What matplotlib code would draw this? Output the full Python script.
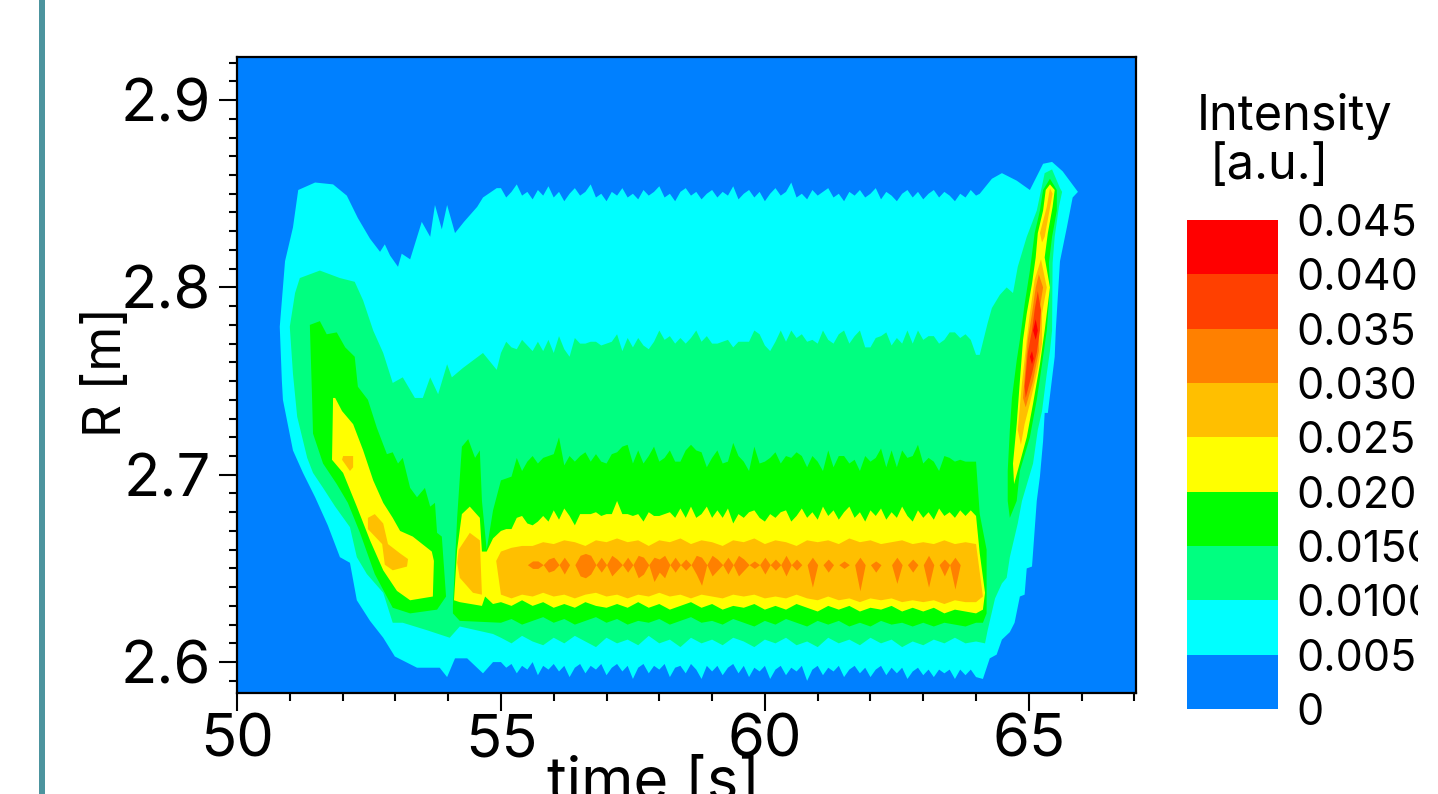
import matplotlib
matplotlib.use("Agg")
import matplotlib.pyplot as plt
from matplotlib.colors import ListedColormap, BoundaryNorm
from matplotlib.patches import Rectangle
from matplotlib.ticker import MultipleLocator
from matplotlib.transforms import Bbox
import numpy as np

plt.rcParams['font.family'] = ['Inter', 'Liberation Sans', 'DejaVu Sans']

levels = [0, 0.005, 0.01, 0.015, 0.02, 0.025, 0.03, 0.035, 0.04, 0.045]
level_labels = ["0", "0.0050", "0.0100", "0.0150", "0.0200", "0.0250", "0.0300", "0.0350", "0.0400", "0.0450"]
level_colors = ["#0080FF", "#00FFFF", "#00FF80", "#00FF00", "#FFFF00", "#FFBF00", "#FF8000", "#FF4000", "#FF0000"]

# 0.005 contour
c005_top = [2.853, 2.848, 2.851, 2.855, 2.849, 2.851, 2.847, 2.852, 2.849, 2.854,
            2.848, 2.851, 2.846, 2.850, 2.853, 2.849, 2.851, 2.855, 2.848, 2.850,
            2.846, 2.851, 2.849, 2.853, 2.848, 2.850, 2.847, 2.852, 2.849, 2.851,
            2.854, 2.848, 2.850, 2.846, 2.851, 2.853, 2.849, 2.851, 2.847, 2.850,
            2.852, 2.848, 2.851, 2.849, 2.854, 2.847, 2.850, 2.852, 2.848, 2.851,
            2.846, 2.850, 2.853, 2.849, 2.851, 2.856, 2.848, 2.850, 2.847, 2.852,
            2.849, 2.851, 2.853, 2.848, 2.850, 2.846, 2.851, 2.849, 2.852, 2.848,
            2.850, 2.853, 2.847, 2.851, 2.849, 2.846, 2.850, 2.852, 2.848, 2.851,
            2.847, 2.850, 2.852, 2.848, 2.851, 2.849, 2.846, 2.850, 2.848, 2.852,
            2.849]
c005_bot = [2.600, 2.597, 2.599, 2.594, 2.598, 2.596, 2.600, 2.593, 2.598, 2.596,
            2.599, 2.595, 2.598, 2.592, 2.597, 2.599, 2.594, 2.598, 2.596, 2.599,
            2.593, 2.597, 2.599, 2.595, 2.598, 2.591, 2.597, 2.599, 2.594, 2.598,
            2.596, 2.599, 2.592, 2.597, 2.598, 2.594, 2.599, 2.596, 2.591, 2.598,
            2.595, 2.598, 2.593, 2.597, 2.599, 2.594, 2.598, 2.592, 2.597, 2.595,
            2.598, 2.591, 2.596, 2.598, 2.593, 2.597, 2.595, 2.598, 2.590, 2.596,
            2.598, 2.593, 2.597, 2.595, 2.598, 2.592, 2.596, 2.598, 2.594, 2.597,
            2.592, 2.596, 2.598, 2.593, 2.597, 2.594, 2.597, 2.591, 2.595, 2.597,
            2.593, 2.596, 2.592, 2.596, 2.594, 2.596, 2.591, 2.596, 2.593, 2.596,
            2.592]
c005_left_t = [50.81, 50.91, 51.06, 51.16, 51.48, 51.82, 52.08, 52.29, 52.52, 52.71, 52.80, 52.90, 53.05, 53.12,
               53.28, 53.50, 53.66, 53.75, 53.88, 53.98, 54.13, 54.30, 54.55, 54.66, 54.92]
c005_left_R = [2.779, 2.814, 2.832, 2.852, 2.856, 2.855, 2.849, 2.837, 2.826, 2.819, 2.823, 2.817, 2.811, 2.818,
               2.815, 2.835, 2.827, 2.844, 2.831, 2.844, 2.829, 2.835, 2.843, 2.848, 2.853]
c005_right_t = [64.07, 64.30, 64.49, 64.77, 65.02, 65.27, 65.44, 65.64, 65.93, 65.83, 65.72, 65.59, 65.51, 65.49,
                65.36, 65.30, 65.27, 65.21, 65.15, 65.06, 64.96, 64.92, 64.83, 64.73, 64.64, 64.49, 64.39, 64.26, 64.13]
c005_right_R = [2.850, 2.858, 2.861, 2.857, 2.852, 2.866, 2.867, 2.862, 2.851, 2.848, 2.832, 2.814, 2.777, 2.763,
                2.733, 2.733, 2.718, 2.699, 2.686, 2.651, 2.650, 2.636, 2.635, 2.621, 2.616, 2.612, 2.604, 2.602, 2.591]
c005_low_t = [54.85, 54.66, 54.36, 54.13, 53.98, 53.84, 53.60, 53.41, 52.99, 52.77, 52.52, 52.27, 52.14, 51.95,
              51.72, 51.48, 51.25, 51.06, 50.87, 50.85]
c005_low_R = [2.600, 2.594, 2.602, 2.602, 2.592, 2.597, 2.597, 2.597, 2.603, 2.613, 2.622, 2.633, 2.653, 2.656,
              2.673, 2.688, 2.701, 2.713, 2.740, 2.750]

# 0.010 contour
c010_top = [2.765, 2.771, 2.768, 2.767, 2.772, 2.769, 2.766, 2.771, 2.766, 2.772,
            2.765, 2.774, 2.767, 2.763, 2.773, 2.770, 2.770, 2.771, 2.771, 2.769,
            2.770, 2.771, 2.775, 2.766, 2.773, 2.768, 2.773, 2.769, 2.767, 2.771,
            2.777, 2.772, 2.774, 2.770, 2.773, 2.770, 2.773, 2.777, 2.771, 2.774,
            2.770, 2.770, 2.771, 2.772, 2.768, 2.771,
            2.771, 2.771, 2.777, 2.775, 2.769, 2.766, 2.771, 2.777, 2.771, 2.777,
            2.773, 2.775, 2.771, 2.772, 2.770, 2.777, 2.772, 2.770, 2.775, 2.777,
            2.770, 2.774, 2.777, 2.768, 2.768, 2.773, 2.774, 2.776, 2.769, 2.773,
            2.770, 2.777, 2.770, 2.777, 2.772, 2.774, 2.774, 2.770, 2.772, 2.776,
            2.776, 2.773, 2.775, 2.772, 2.764]
c010_bot = [2.613, 2.610, 2.614, 2.611, 2.609, 2.613, 2.610, 2.614, 2.611, 2.608,
            2.613, 2.610, 2.612, 2.609, 2.614, 2.610, 2.612, 2.608, 2.613, 2.610,
            2.612, 2.609, 2.613, 2.611, 2.608, 2.612, 2.610, 2.613, 2.609, 2.611,
            2.608, 2.613, 2.610, 2.612, 2.609, 2.613, 2.610, 2.612, 2.608, 2.611,
            2.609, 2.612, 2.610, 2.613, 2.610, 2.611]
c010_left_t = [51.00, 51.10, 51.19, 51.57, 51.95, 52.23, 52.39, 52.58, 52.77, 52.95, 53.14, 53.37, 53.52, 53.66,
               53.81, 53.98, 54.07, 54.28, 54.66, 54.92]
c010_left_R = [2.779, 2.797, 2.805, 2.809, 2.805, 2.803, 2.793, 2.777, 2.765, 2.749, 2.752, 2.741, 2.741, 2.752,
               2.743, 2.759, 2.752, 2.757, 2.765, 2.756]
c010_right_t = [64.07, 64.22, 64.30, 64.45, 64.58, 64.70, 64.79, 64.96, 65.15, 65.30, 65.44, 65.59, 65.63, 65.57,
                65.49, 65.45, 65.44, 65.40, 65.34, 65.25, 65.17, 65.08, 64.87, 64.79, 64.64, 64.58, 64.49, 64.36, 64.22, 64.17]
c010_right_R = [2.764, 2.781, 2.789, 2.796, 2.800, 2.797, 2.811, 2.827, 2.841, 2.861, 2.863, 2.853, 2.851, 2.843,
                2.827, 2.813, 2.777, 2.766, 2.754, 2.734, 2.724, 2.706, 2.686, 2.674, 2.656, 2.645, 2.642, 2.634, 2.617, 2.610]
c010_low_t = [54.85, 54.22, 54.03, 53.60, 53.14, 52.95, 52.77, 52.46, 52.27, 52.14, 51.86, 51.63, 51.44, 51.33,
              51.14, 51.06]
c010_low_R = [2.615, 2.619, 2.613, 2.617, 2.621, 2.621, 2.637, 2.647, 2.656, 2.672, 2.683, 2.693, 2.701, 2.709,
              2.731, 2.754]

# 0.015 contour, three separate regions
c015_lobe_t = [51.38, 51.57, 51.70, 51.89, 52.05, 52.23, 52.29, 52.48, 52.65, 52.84, 52.95, 53.05, 53.14, 53.28,
               53.41, 53.56, 53.66, 53.75, 53.79, 53.88, 53.96, 53.79, 53.28, 52.95, 52.61, 52.33, 52.10, 51.89,
               51.63, 51.44, 51.42]
c015_lobe_R = [2.780, 2.782, 2.775, 2.776, 2.768, 2.763, 2.747, 2.740, 2.725, 2.711, 2.712, 2.706, 2.709, 2.693,
               2.688, 2.693, 2.683, 2.685, 2.669, 2.667, 2.635, 2.628, 2.626, 2.629, 2.647, 2.669, 2.685, 2.695,
               2.706, 2.722, 2.743]
c015_top = [2.697, 2.698, 2.699, 2.709, 2.702, 2.707, 2.710, 2.706, 2.709, 2.710,
            2.711, 2.720, 2.705, 2.710, 2.707, 2.710, 2.712, 2.707, 2.711, 2.707,
            2.706, 2.711, 2.712, 2.715, 2.716, 2.706, 2.713, 2.706, 2.710, 2.715,
            2.707, 2.709, 2.713, 2.707, 2.707, 2.713, 2.716, 2.713, 2.712, 2.704,
            2.709, 2.713, 2.706, 2.707, 2.717, 2.710,
            2.707, 2.702, 2.715, 2.706, 2.707, 2.709, 2.712, 2.706, 2.710, 2.709,
            2.712, 2.710, 2.704, 2.710, 2.707, 2.702, 2.713, 2.704, 2.710, 2.710,
            2.706, 2.708, 2.702, 2.710, 2.707, 2.709, 2.714, 2.704, 2.713, 2.704,
            2.713, 2.709, 2.710, 2.716, 2.706, 2.709, 2.707, 2.702, 2.710, 2.709,
            2.707, 2.708, 2.707, 2.707, 2.707]
c015_bot = [2.621, 2.623, 2.620, 2.622, 2.624, 2.621, 2.623, 2.620, 2.622, 2.624,
            2.621, 2.623, 2.620, 2.622, 2.621, 2.623, 2.620, 2.622, 2.624, 2.621,
            2.622, 2.620, 2.623, 2.621, 2.619, 2.622, 2.620, 2.623, 2.621, 2.619,
            2.622, 2.620, 2.622, 2.619, 2.621, 2.619, 2.622, 2.620, 2.621, 2.619,
            2.621, 2.619, 2.621, 2.620, 2.619, 2.621]
c015_left_t = [54.09, 54.17, 54.26, 54.38, 54.51, 54.60, 54.64, 54.73, 54.85]
c015_left_R = [2.630, 2.677, 2.715, 2.719, 2.709, 2.713, 2.686, 2.660, 2.681]
c015_right_t = [64.07, 64.20, 64.20, 64.13]
c015_right_R = [2.679, 2.660, 2.626, 2.621]
c015_low_t = [54.22, 54.09]
c015_low_R = [2.622, 2.626]
c015_spike_t = [65.40, 65.53, 65.53, 65.44, 65.38, 65.40, 65.34, 65.25, 65.15, 65.02, 64.83, 64.77, 64.64, 64.60,
                64.60, 64.64, 64.68, 64.77, 64.83, 64.92, 65.02, 65.11, 65.21, 65.27]
c015_spike_R = [2.858, 2.852, 2.841, 2.827, 2.813, 2.800, 2.777, 2.759, 2.740, 2.720, 2.702, 2.686, 2.677, 2.686,
                2.702, 2.724, 2.741, 2.761, 2.772, 2.791, 2.809, 2.829, 2.841, 2.852]

# 0.020 contour
c020_lobe_t = [51.82, 51.86, 51.99, 52.20, 52.39, 52.58, 52.77, 52.95, 53.09, 53.33, 53.69, 53.73, 53.71, 53.28,
               53.03, 52.77, 52.52, 52.27, 52.01, 51.80]
c020_lobe_R = [2.741, 2.741, 2.734, 2.727, 2.713, 2.697, 2.685, 2.677, 2.670, 2.667, 2.659, 2.654, 2.635, 2.633,
               2.638, 2.649, 2.665, 2.683, 2.701, 2.708]
c020_top = [2.670, 2.671, 2.671, 2.677, 2.678, 2.674, 2.673, 2.675, 2.678, 2.675,
            2.681, 2.676, 2.682, 2.678, 2.673, 2.679, 2.679, 2.679, 2.680, 2.678,
            2.679, 2.679, 2.686, 2.679, 2.679, 2.678, 2.679, 2.675, 2.680, 2.678,
            2.678, 2.679, 2.680, 2.677, 2.682, 2.677, 2.683, 2.677, 2.679, 2.683,
            2.677, 2.681, 2.677, 2.682, 2.674, 2.679, 2.677, 2.680, 2.681, 2.677,
            2.675, 2.679, 2.677, 2.680, 2.681, 2.675, 2.678,
            2.682, 2.677, 2.680, 2.676, 2.683, 2.678, 2.681, 2.676, 2.680, 2.683,
            2.677, 2.680, 2.675, 2.681, 2.678, 2.682, 2.676, 2.680, 2.677, 2.683,
            2.678, 2.675, 2.681, 2.677, 2.680, 2.676, 2.682, 2.678, 2.680, 2.677,
            2.681, 2.678, 2.681, 2.678]
c020_bot = [2.632, 2.630, 2.633, 2.630, 2.632, 2.629, 2.631, 2.629, 2.632, 2.630,
            2.629, 2.631, 2.629, 2.632, 2.629, 2.631, 2.628, 2.630, 2.632, 2.629,
            2.631, 2.628, 2.630, 2.629, 2.631, 2.628, 2.630, 2.628, 2.631, 2.629,
            2.627, 2.630, 2.628, 2.630, 2.627, 2.629, 2.628, 2.630, 2.627, 2.629,
            2.627, 2.629, 2.626, 2.628, 2.627, 2.626]
c020_left_t = [54.11, 54.17, 54.26, 54.41, 54.60, 54.64, 54.73, 54.85]
c020_left_R = [2.633, 2.660, 2.679, 2.683, 2.677, 2.659, 2.659, 2.666]
c020_right_t = [64.07, 64.17, 64.13]
c020_right_R = [2.658, 2.637, 2.628]
c020_low_t = [54.85, 54.70, 54.64, 54.22]
c020_low_R = [2.631, 2.635, 2.630, 2.632]
c020_spike_t = [65.40, 65.49, 65.45, 65.36, 65.30, 65.40, 65.30, 65.21, 65.08, 64.96, 64.72, 64.70, 64.77, 64.83,
                64.89, 64.96, 65.06, 65.13, 65.17, 65.27, 65.32]
c020_spike_R = [2.855, 2.852, 2.843, 2.829, 2.816, 2.800, 2.777, 2.759, 2.738, 2.720, 2.695, 2.706, 2.727, 2.750,
                2.772, 2.786, 2.802, 2.816, 2.829, 2.841, 2.852]

# 0.025 contour
c025_hump_t = [54.20, 54.41, 54.60, 54.64, 54.47, 54.22, 54.17]
c025_hump_R = [2.660, 2.669, 2.665, 2.636, 2.637, 2.645, 2.653]
c025_top = [2.659, 2.661, 2.662, 2.662, 2.664, 2.663, 2.665, 2.664, 2.662, 2.665,
            2.664, 2.666, 2.664, 2.665, 2.662, 2.665, 2.664, 2.666, 2.663, 2.665,
            2.664, 2.662, 2.665, 2.664, 2.666, 2.663, 2.665, 2.664, 2.662, 2.665,
            2.664, 2.665, 2.663, 2.666, 2.664, 2.665, 2.663, 2.664, 2.665, 2.663,
            2.664, 2.663, 2.665, 2.663, 2.664, 2.663]
c025_bot = [2.636, 2.634, 2.636, 2.635, 2.637, 2.635, 2.636, 2.634, 2.636, 2.637,
            2.635, 2.636, 2.634, 2.636, 2.635, 2.637, 2.635, 2.636, 2.634, 2.636,
            2.635, 2.634, 2.636, 2.635, 2.636, 2.634, 2.635, 2.634, 2.636, 2.634,
            2.633, 2.635, 2.633, 2.634, 2.632, 2.634, 2.633, 2.634, 2.632, 2.633,
            2.632, 2.633, 2.631, 2.633, 2.632, 2.632]
c025_main_left_t = [54.91]
c025_main_left_R = [2.654]
c025_main_right_t = [64.13]
c025_main_right_R = [2.635]
c025_isle1_t = [52.01, 52.20, 52.20, 52.14, 51.99]
c025_isle1_R = [2.710, 2.710, 2.704, 2.702, 2.708]
c025_isle2_t = [52.48, 52.61, 52.77, 52.86, 53.09, 53.24, 53.22, 52.95, 52.80, 52.75, 52.48]
c025_isle2_R = [2.677, 2.679, 2.674, 2.663, 2.658, 2.655, 2.651, 2.649, 2.652, 2.663, 2.671]
c025_spike1_t = [65.40, 65.45, 65.30, 65.25, 65.21, 65.34]
c025_spike1_R = [2.853, 2.850, 2.827, 2.824, 2.829, 2.843]
c025_spike2_t = [65.23, 65.34, 65.25, 65.25, 65.15, 65.02, 64.92, 64.85, 64.79, 64.87, 64.96, 65.02, 65.11]
c025_spike2_R = [2.815, 2.800, 2.786, 2.770, 2.754, 2.738, 2.727, 2.716, 2.724, 2.749, 2.772, 2.786, 2.804]

# 0.030 and above only appear in the last peak, plus thin streaks in the flat part
c030_streak_t = np.arange(55.5, 63.85, 0.1)
c030_streak_top = [2.652, 2.654, 2.654, 2.652, 2.655, 2.656, 2.652, 2.656, 2.652, 2.652,
                   2.657, 2.658, 2.657, 2.652, 2.656, 2.652, 2.657, 2.655, 2.652, 2.656,
                   2.652, 2.657, 2.656, 2.652, 2.656, 2.655, 2.657, 2.652, 2.656, 2.652,
                   2.655, 2.652, 2.657, 2.656, 2.652, 2.657, 2.655, 2.652, 2.656, 2.652,
                   2.657, 2.655, 2.652, 2.654, 2.652, 2.656, 2.652, 2.655, 2.652, 2.657,
                   2.652, 2.655, 2.652, 2.652, 2.656, 2.652, 2.652, 2.655, 2.652, 2.652,
                   2.654, 2.652, 2.652, 2.656, 2.652, 2.652, 2.654, 2.652, 2.652, 2.652,
                   2.656, 2.652, 2.652, 2.655, 2.652, 2.652, 2.657, 2.652, 2.652, 2.655,
                   2.652, 2.656, 2.652, 2.652]
c030_streak_bot = [2.652, 2.650, 2.650, 2.652, 2.648, 2.649, 2.652, 2.647, 2.652, 2.652,
                   2.646, 2.645, 2.647, 2.652, 2.648, 2.652, 2.646, 2.649, 2.652, 2.648,
                   2.652, 2.645, 2.647, 2.652, 2.643, 2.648, 2.645, 2.652, 2.648, 2.652,
                   2.649, 2.652, 2.647, 2.641, 2.652, 2.646, 2.649, 2.652, 2.647, 2.652,
                   2.646, 2.649, 2.652, 2.650, 2.652, 2.647, 2.652, 2.649, 2.652, 2.646,
                   2.652, 2.649, 2.652, 2.652, 2.640, 2.652, 2.652, 2.648, 2.652, 2.652,
                   2.650, 2.652, 2.652, 2.638, 2.652, 2.652, 2.648, 2.652, 2.652, 2.652,
                   2.642, 2.652, 2.652, 2.648, 2.652, 2.652, 2.640, 2.652, 2.652, 2.646,
                   2.652, 2.639, 2.652, 2.652]
c030_spike_t = [65.19, 65.27, 65.19, 65.19, 65.08, 64.94, 64.89, 64.94, 64.98, 65.06, 65.13]
c030_spike_R = [2.807, 2.800, 2.786, 2.766, 2.750, 2.736, 2.741, 2.759, 2.772, 2.786, 2.800]
c035_spike_t = [65.17, 65.23, 65.21, 65.15, 65.06, 64.94, 64.92, 64.98, 65.06, 65.11]
c035_spike_R = [2.798, 2.788, 2.777, 2.765, 2.754, 2.741, 2.747, 2.765, 2.777, 2.788]
c040_spike_t = [65.13, 65.17, 65.13, 65.08]
c040_spike_R = [2.783, 2.777, 2.772, 2.777]
c040_spike2_t = [65.06, 65.09, 65.06, 65.02]
c040_spike2_R = [2.766, 2.762, 2.759, 2.763]


def fill_region(ax, t, R, level):
    ax.fill(t, R, color=level_colors[level], linewidth=0, zorder=level + 1)


def ring(left_t, left_R, top, right_t, right_R, bot, low_t=(), low_R=()):
    t_top = np.linspace(55, 64, len(top))
    t_bot = np.linspace(55, 64, len(bot))
    t = np.r_[left_t, t_top, right_t, t_bot[::-1], low_t]
    R = np.r_[left_R, top, right_R, bot[::-1], low_R]
    return t, R


W, H = 1438, 794
fig = plt.figure(figsize=(W / 100, H / 100), dpi=100, facecolor="white")
ax = fig.add_axes([237 / W, 1 - 693 / H, (1136 - 237) / W, (693 - 57) / H])
ax.set_facecolor(level_colors[0])

fill_region(ax, *ring(c005_left_t, c005_left_R, c005_top, c005_right_t, c005_right_R, c005_bot, c005_low_t, c005_low_R), 1)
fill_region(ax, *ring(c010_left_t, c010_left_R, c010_top, c010_right_t, c010_right_R, c010_bot, c010_low_t, c010_low_R), 2)

fill_region(ax, c015_lobe_t, c015_lobe_R, 3)
fill_region(ax, *ring(c015_left_t, c015_left_R, c015_top, c015_right_t, c015_right_R, c015_bot, c015_low_t, c015_low_R), 3)
fill_region(ax, c015_spike_t, c015_spike_R, 3)

fill_region(ax, c020_lobe_t, c020_lobe_R, 4)
fill_region(ax, *ring(c020_left_t, c020_left_R, c020_top, c020_right_t, c020_right_R, c020_bot, c020_low_t, c020_low_R), 4)
fill_region(ax, c020_spike_t, c020_spike_R, 4)

fill_region(ax, c025_hump_t, c025_hump_R, 5)
fill_region(ax, c025_isle1_t, c025_isle1_R, 5)
fill_region(ax, c025_isle2_t, c025_isle2_R, 5)
fill_region(ax, *ring(c025_main_left_t, c025_main_left_R, c025_top, c025_main_right_t, c025_main_right_R, c025_bot), 5)
fill_region(ax, c025_spike1_t, c025_spike1_R, 5)
fill_region(ax, c025_spike2_t, c025_spike2_R, 5)

ax.fill_between(c030_streak_t, c030_streak_bot, c030_streak_top, color=level_colors[6], linewidth=0, zorder=7)
fill_region(ax, c030_spike_t, c030_spike_R, 6)
fill_region(ax, c035_spike_t, c035_spike_R, 7)
fill_region(ax, c040_spike_t, c040_spike_R, 8)
fill_region(ax, c040_spike2_t, c040_spike2_R, 8)

ax.set_xlim(50, 67.03)
ax.set_ylim(2.5835, 2.923)
ax.set_xticks([50, 55, 60, 65])
ax.set_yticks([2.6, 2.7, 2.8, 2.9])
ax.xaxis.set_minor_locator(MultipleLocator(1))
ax.yaxis.set_minor_locator(MultipleLocator(0.01))
ax.tick_params(which="major", direction="out", length=13, width=1.5, labelsize=43)
ax.tick_params(which="minor", direction="out", length=6, width=1.5)
ax.tick_params(axis="y", which="major", pad=6)
ax.tick_params(axis="x", which="major", pad=2)
for s in ax.spines.values():
    s.set_linewidth(1.6)
    s.set_zorder(20)

ax.set_xlabel("time [s]", fontsize=43)
ax.xaxis.set_label_coords(0.463, -0.1)
ax.set_ylabel("R [m]", fontsize=37)
ax.yaxis.set_label_coords(-0.117, 0.505)

# colour bar with its labels cut by the picture crop
cax = fig.add_axes([1187 / W, 1 - 709 / H, (1278 - 1187) / W, (709 - 220) / H])
cmap = ListedColormap(level_colors)
norm = BoundaryNorm(levels, cmap.N)
cax.pcolormesh([0, 1], levels, np.arange(len(level_colors)).reshape(-1, 1) * 0.005 + 0.0025, cmap=cmap, norm=norm)
cax.set_xticks([])
cax.yaxis.tick_right()
cax.set_yticks(levels, labels=level_labels)
cax.tick_params(axis="y", length=0, pad=13, labelsize=31)
cax.set_ylim(0, 0.045)
for s in cax.spines.values():
    s.set_visible(False)
clip = Bbox([[0, 0], [1418, H]])
for lbl in cax.get_yticklabels():
    lbl.set_clip_box(clip)
    lbl.set_clip_on(True)

fig.text(1197 / W, 1 - 117 / H, "Intensity", fontsize=35, ha="left", va="center")
fig.text(1210 / W, 1 - 166 / H, "[a.u.]", fontsize=35, ha="left", va="center")

# slide border on the left
fig.add_artist(Rectangle((39 / W, 0), 6 / W, 1, transform=fig.transFigure, color="#4C949E", linewidth=0))

fig.savefig("out.png", dpi=100)
